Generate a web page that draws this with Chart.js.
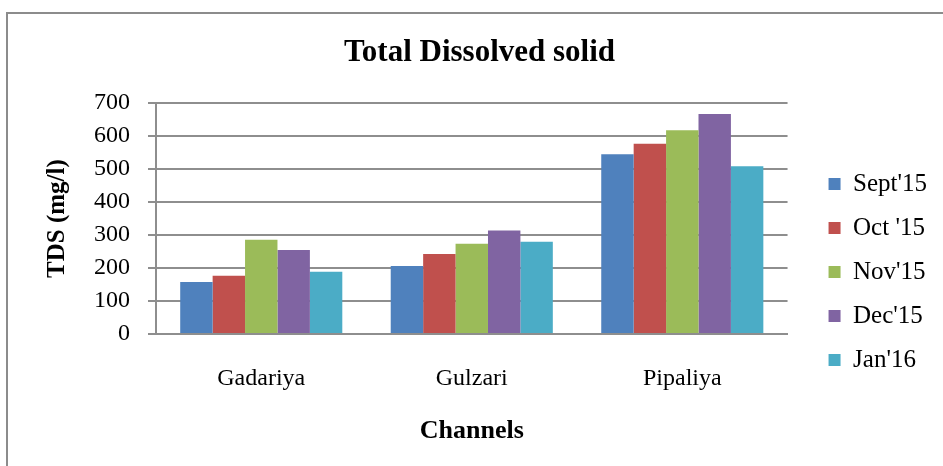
<!DOCTYPE html>
<html>
<head>
    <meta charset="utf-8">
    <title>Total Dissolved solid</title>
    <script src="https://cdn.jsdelivr.net/npm/chart.js@4.4.1/dist/chart.umd.min.js"></script>
    <style>
        html, body { margin: 0; padding: 0; background: #ffffff; }
        #wrap { position: relative; width: 943px; height: 466px; }
    </style>
</head>
<body>
    <div id="wrap">
        <canvas id="tds" width="943" height="466"></canvas>
    </div>

    <script>
        // data
        var channels = ["Gadariya", "Gulzari", "Pipaliya"];
        var months = ["Sept'15", "Oct '15", "Nov'15", "Dec'15", "Jan'16"];
        var sept15 = [158, 206, 545];
        var oct15 = [177, 243, 577];
        var nov15 = [286, 274, 618];
        var dec15 = [255, 314, 667];
        var jan16 = [189, 280, 509];
        var colors = ["#4F81BD", "#C0504D", "#9BBB59", "#8064A2", "#4BACC6"];

        var serif = "'Liberation Serif', 'Times New Roman', serif";
        var gridGrey = "#8e8e8e";

        // outer frame of the chart, cut off at right and bottom
        var framePlugin = {
            id: 'frame',
            beforeDraw: function (chart) {
                var ctx = chart.ctx;
                ctx.save();
                ctx.strokeStyle = "#8c8c8c";
                ctx.lineWidth = 2;
                ctx.beginPath();
                ctx.moveTo(7, 466);
                ctx.lineTo(7, 13);
                ctx.lineTo(943, 13);
                ctx.stroke();
                ctx.restore();
            }
        };

        // legend sits lower than a full-height centred legend would
        var legendShift = {
            id: 'legendShift',
            afterLayout: function (chart) {
                chart.legend.top = 78;
            }
        };

        var series = [sept15, oct15, nov15, dec15, jan16];
        var datasets = series.map(function (vals, i) {
            return {
                label: months[i],
                data: vals,
                backgroundColor: colors[i],
                borderWidth: 0
            };
        });

        chart_tds = new Chart(document.getElementById("tds"), {
            type: 'bar',
            data: {
                labels: channels,
                datasets: datasets
            },
            plugins: [framePlugin, legendShift],
            options: {
                responsive: false,
                animation: false,
                layout: {
                    padding: { left: 22, right: 6, top: 0, bottom: 0 }
                },
                datasets: {
                    bar: { categoryPercentage: 0.77, barPercentage: 1.0 }
                },
                plugins: {
                    title: {
                        display: true,
                        text: 'Total Dissolved solid',
                        color: '#000',
                        font: { family: serif, size: 31, weight: 'bold' },
                        padding: { top: 34, bottom: 32 }
                    },
                    legend: {
                        position: 'right',
                        labels: {
                            color: '#000',
                            boxWidth: 12,
                            boxHeight: 12,
                            padding: 19,
                            font: { family: serif, size: 25 }
                        }
                    },
                    tooltip: { enabled: false }
                },
                scales: {
                    x: {
                        grid: { display: false, drawTicks: false },
                        border: { display: true, color: gridGrey, width: 2 },
                        ticks: {
                            color: '#000',
                            padding: 30,
                            font: { family: serif, size: 24 }
                        },
                        title: {
                            display: true,
                            text: 'Channels',
                            color: '#000',
                            font: { family: serif, size: 26, weight: 'bold' },
                            padding: { top: 0, bottom: 19 }
                        },
                        afterFit: function (scale) { scale.height = 132; }
                    },
                    y: {
                        min: 0,
                        max: 700,
                        grid: { color: gridGrey, lineWidth: 2, tickLength: 8, tickColor: gridGrey },
                        border: { display: true, color: gridGrey, width: 2 },
                        ticks: {
                            stepSize: 100,
                            autoSkip: false,
                            color: '#000',
                            padding: 18,
                            font: { family: serif, size: 24 }
                        },
                        title: {
                            display: true,
                            text: 'TDS (mg/l)',
                            color: '#000',
                            font: { family: serif, size: 25, weight: 'bold' },
                            padding: { top: 21, bottom: 0 }
                        },
                        afterFit: function (scale) { scale.width = 134; }
                    },
                    gap: {
                        type: 'linear',
                        position: 'right',
                        display: true,
                        grid: { display: false },
                        border: { display: false },
                        ticks: { display: false },
                        afterFit: function (scale) { scale.width = 22; }
                    }
                }
            }
        });
    </script>
</body>
</html>
